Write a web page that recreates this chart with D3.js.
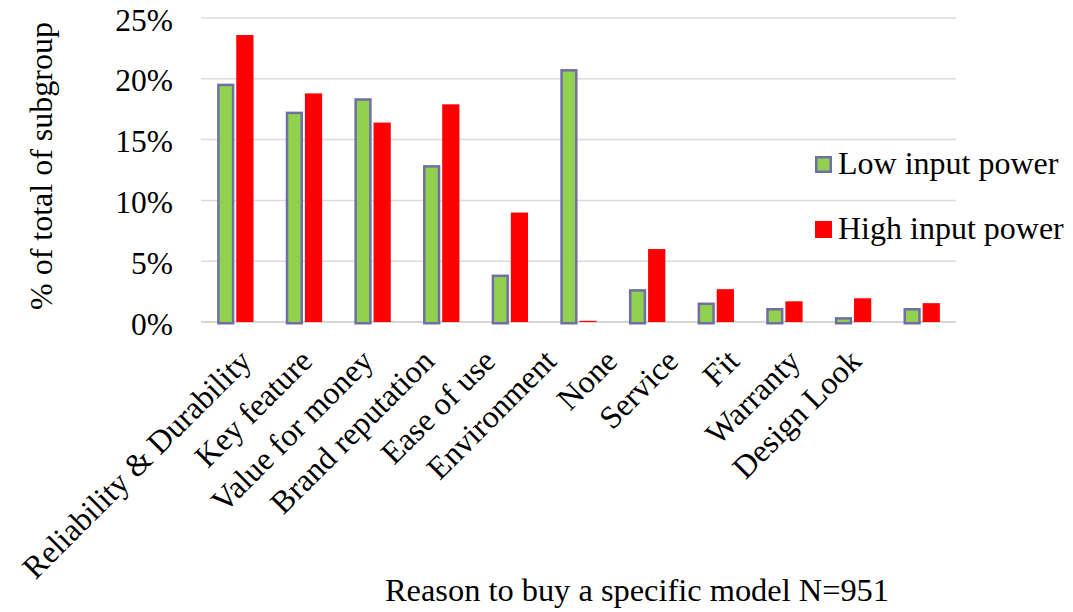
<!DOCTYPE html>
<html>
<head>
<meta charset="utf-8">
<script src="https://cdn.jsdelivr.net/npm/d3@7"></script>
<style>
  html, body { margin: 0; padding: 0; background: #fff; }
  svg { display: block; }
  text { font-family: "Liberation Serif", "Times New Roman", serif; fill: #000; }
</style>
</head>
<body>
<svg id="chart" width="1073" height="612"></svg>
<script>
const categories = ["Reliability & Durability", "Key feature", "Value for money", "Brand reputation",
  "Ease of use", "Environment", "None", "Service", "Fit", "Warranty", "Design Look"];
const seriesNames = ["Low input power", "High input power"];
const lowPower  = [19.6, 17.3, 18.4, 12.9, 3.9, 20.8, 2.7, 1.6, 1.15, 0.4, 1.15];
const highPower = [23.6, 18.8, 16.4, 17.9, 9.0, 0.1, 6.0, 2.7, 1.7, 1.95, 1.55];
const yTicks = [0, 5, 10, 15, 20, 25];
const yTitle = "% of total of subgroup";
const xTitle = "Reason to buy a specific model N=951";

(function () {
const svg = d3.select("#chart");
const pLeft = 201, pRight = 956, pTop = 18, pBottom = 322;

const x0 = d3.scaleBand().domain(categories).range([pLeft, pRight]).paddingInner(0.47).paddingOuter(0.235);
const x1 = d3.scaleBand().domain(seriesNames).range([0, x0.bandwidth()]).paddingInner(0.1);
const y = d3.scaleLinear().domain([0, 25]).range([pBottom, pTop]);
const labelX = d3.scalePoint().domain(categories).range([253, 863]);

const styles = {
  "Low input power": { fill: "#92d050", stroke: "#6f6fa6", sw: 2.5 },
  "High input power": { fill: "#ff0000", stroke: "none", sw: 0 }
};

// gridlines
svg.append("g").selectAll("line").data(yTicks).join("line")
  .attr("x1", pLeft).attr("x2", pRight)
  .attr("y1", d => y(d)).attr("y2", d => y(d))
  .attr("stroke", d => d === 0 ? "#c8c8c8" : "#dcdcdc").attr("stroke-width", 1.5);

// y tick labels
svg.append("g").selectAll("text").data(yTicks).join("text")
  .attr("x", 173).attr("y", d => y(d) + 2)
  .attr("text-anchor", "end").attr("dominant-baseline", "central")
  .style("font-size", "31.5px")
  .text(d => d + "%");

// bars
const data = categories.map((c, i) => ({ c, vals: [
  { s: seriesNames[0], v: lowPower[i] }, { s: seriesNames[1], v: highPower[i] } ] }));

const groups = svg.append("g").selectAll("g").data(data).join("g")
  .attr("transform", d => `translate(${x0(d.c)},0)`);
groups.selectAll("rect").data(d => d.vals).join("rect")
  .attr("x", d => x1(d.s) + styles[d.s].sw / 2)
  .attr("width", d => x1.bandwidth() - styles[d.s].sw)
  .attr("y", d => y(d.v) + styles[d.s].sw / 2)
  .attr("height", d => Math.max(0.8, y(0) - y(d.v)))
  .attr("fill", d => styles[d.s].fill)
  .attr("stroke", d => styles[d.s].stroke)
  .attr("stroke-width", d => styles[d.s].sw);

// x labels
svg.append("g").selectAll("text").data(categories).join("text")
  .attr("transform", d => `translate(${labelX(d)},363) rotate(-45)`)
  .attr("text-anchor", "end")
  .style("font-size", "32px")
  .text(d => d);

// y title
svg.append("text")
  .attr("transform", "translate(52,166) rotate(-90)")
  .attr("text-anchor", "middle")
  .style("font-size", "32px")
  .text(yTitle);

// x title
svg.append("text")
  .attr("x", 637).attr("y", 601)
  .attr("text-anchor", "middle")
  .style("font-size", "32.4px")
  .text(xTitle);

// legend
const legendY = d3.scalePoint().domain(seriesNames).range([164, 229]);
const lg = svg.append("g").selectAll("g").data(seriesNames).join("g")
  .attr("transform", d => `translate(815,${legendY(d)})`);
lg.append("rect")
  .attr("x", d => styles[d].sw / 2).attr("y", d => -8 + styles[d].sw / 2)
  .attr("width", d => 17 - styles[d].sw).attr("height", d => 17 - styles[d].sw)
  .attr("fill", d => styles[d].fill).attr("stroke", d => styles[d].stroke)
  .attr("stroke-width", d => styles[d].sw);
lg.append("text")
  .attr("x", 23).attr("y", 10)
  .style("font-size", "32px")
  .text(d => d);
})();
</script>
</body>
</html>
